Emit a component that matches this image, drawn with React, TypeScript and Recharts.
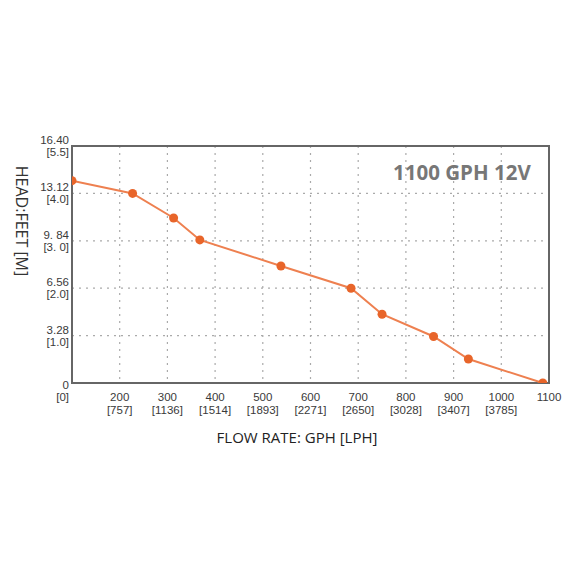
import React from 'react';
import { LineChart, Line, XAxis, YAxis, CartesianGrid, ReferenceArea } from 'recharts';

// pump curve
const flowGph = [100, 227, 313, 368, 538, 685, 750, 858, 931, 1087];
const headFeet = [14.0, 13.12, 11.42, 9.9, 8.1, 6.56, 4.76, 3.22, 1.66, 0];

const xTicks = [200, 300, 400, 500, 600, 700, 800, 900, 1000, 1100];
const xTickLph = ['757', '1136', '1514', '1893', '2271', '2650', '3028', '3407', '3785', ''];
const yTicks = [0, 3.28, 6.56, 9.84, 13.12, 16.4];
const yTickFeet = ['0', '3.28', '6.56', '9. 84', '13.12', '16.40'];
const yTickMeters = ['0', '1.0', '2.0', '3. 0', '4.0', '5.5'];

const tickFont = '"Liberation Sans", Arial, sans-serif';
const labelFont = '"Open Sans", sans-serif';

const data = flowGph.map((gph, i) => ({ gph, head: headFeet[i] }));

const XTick = (props: any) => {
  const { x, y, payload } = props;
  const i = xTicks.indexOf(payload.value);
  const lph = xTickLph[i];
  return (
    <g>
      <text x={x} y={y + 10} textAnchor="middle" fill="#3a3a3a" fontSize={11.5} fontFamily={tickFont}>
        {payload.value}
      </text>
      {lph && (
        <text x={x} y={y + 23} textAnchor="middle" fill="#3a3a3a" fontSize={11.5} fontFamily={tickFont}>
          [{lph}]
        </text>
      )}
    </g>
  );
};

const YTick = (props: any) => {
  const { x, y, payload } = props;
  const i = yTicks.indexOf(payload.value);
  const shift = payload.value === 0 ? 8 : 0;
  return (
    <g>
      <text x={x} y={y - 2 + shift} textAnchor="end" fill="#3a3a3a" fontSize={11.5} fontFamily={tickFont}>
        {yTickFeet[i]}
      </text>
      <text x={x} y={y + 10 + shift} textAnchor="end" fill="#3a3a3a" fontSize={11.5} fontFamily={tickFont}>
        [{yTickMeters[i]}]
      </text>
    </g>
  );
};

const App: React.FC = () => {
  return (
    <div style={{ position: 'absolute', left: 0, top: 0, width: 570, height: 570, background: '#fff' }}>
      <LineChart
        width={570}
        height={570}
        data={data}
        margin={{ top: 146, right: 21, left: 12, bottom: 147 }}
      >
        <CartesianGrid stroke="#aaa" strokeDasharray="2 5" strokeWidth={1.2} />
        <XAxis
          dataKey="gph"
          type="number"
          domain={[100, 1100]}
          ticks={xTicks}
          tick={<XTick />}
          tickLine={false}
          axisLine={false}
          height={40}
          allowDataOverflow
        />
        <YAxis
          type="number"
          domain={[0, 16.4]}
          ticks={yTicks}
          tick={<YTick />}
          tickLine={false}
          axisLine={false}
          tickSize={0}
          tickMargin={3}
          width={60}
          allowDataOverflow
        />
        <ReferenceArea x1={100} x2={1100} y1={0} y2={16.4} fill="none" stroke="#666" strokeWidth={2} />
        <Line
          type="linear"
          dataKey="head"
          stroke="#ee8050"
          strokeWidth={2}
          dot={{ r: 4.5, fill: '#e8652a', stroke: '#e8652a', strokeWidth: 0 }}
          isAnimationActive={false}
        />
      </LineChart>
      <div
        style={{
          position: 'absolute', left: 393, top: 158, fontFamily: labelFont, fontWeight: 700,
          fontSize: 20.5, color: '#777', whiteSpace: 'nowrap', lineHeight: '28px',
        }}
      >
        1100 GPH 12V
      </div>
      <div
        style={{
          position: 'absolute', left: 22, top: 221, transform: 'translate(-50%, -50%) rotate(90deg)',
          fontFamily: labelFont, fontSize: 16, color: '#333', whiteSpace: 'nowrap', lineHeight: '20px',
        }}
      >
        HEAD:FEET [M]
      </div>
      <div
        style={{
          position: 'absolute', left: 297, top: 437, transform: 'translate(-50%, -50%)',
          fontFamily: labelFont, fontSize: 15, color: '#222', whiteSpace: 'nowrap', lineHeight: '20px',
        }}
      >
        FLOW RATE: GPH [LPH]
      </div>
    </div>
  );
};

export default App;
